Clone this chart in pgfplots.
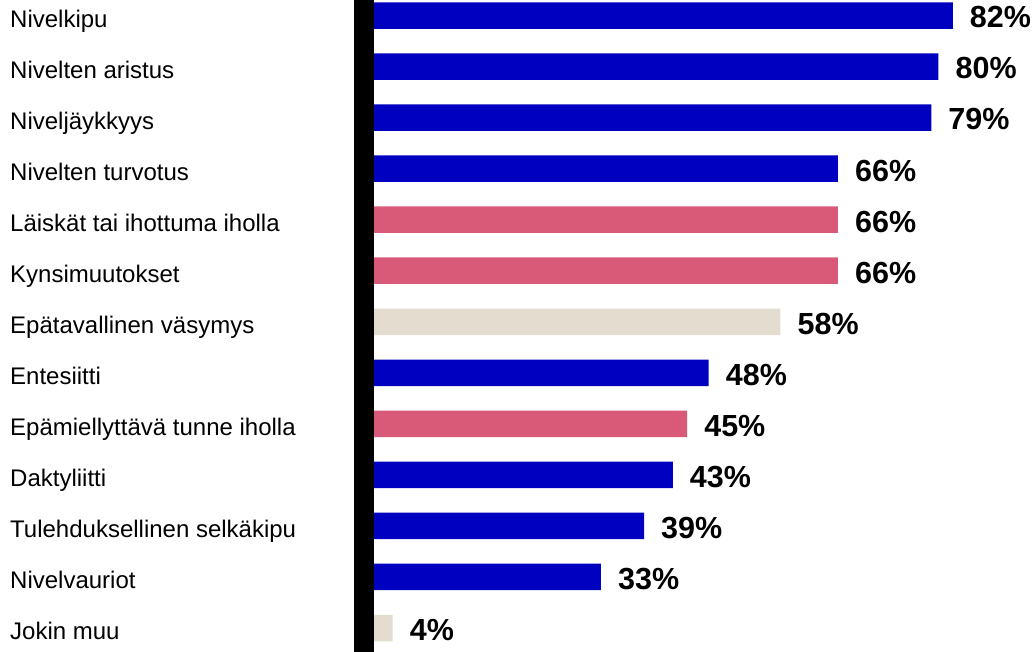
\documentclass[border=0pt]{standalone}
\usepackage{pgfplots}
\pgfplotsset{compat=1.18}
\usepackage{fontspec}
\setmainfont{Liberation Sans}
\definecolor{cblue}{HTML}{0000C0}
\definecolor{cpink}{HTML}{D85A78}
\definecolor{cbeige}{HTML}{E2DDCE}
\begin{document}
\begin{tikzpicture}
\useasboundingbox (0,0) rectangle (1035pt,652pt);
\begin{axis}[
  at={(364pt,0pt)}, anchor=south west,
  scale only axis, width=671pt, height=652pt,
  xbar, bar width=26.5pt, bar shift=0pt,
  xmin=0, xmax=93.45,
  ymin=-0.304, ymax=12.47,
  y dir=reverse,
  axis x line=none,
  axis y line*=left,
  y axis line style={line width=20pt, black},
  axis on top,
  ytick={0,...,12},
  yticklabels={Nivelkipu,Nivelten aristus,Niveljäykkyys,Nivelten turvotus,Läiskät tai ihottuma iholla,Kynsimuutokset,Epätavallinen väsymys,Entesiitti,Epämiellyttävä tunne iholla,Daktyliitti,Tulehduksellinen selkäkipu,Nivelvauriot,Jokin muu},
  major tick length=0pt,
  yticklabel style={anchor=base west, inner sep=0pt, xshift=-354pt, yshift=-11.5pt, font=\fontsize{24}{28}\selectfont},
  point meta=x,
  nodes near coords={\pgfmathprintnumber[assume math mode=true]{\pgfplotspointmeta}\%},
  nodes near coords style={anchor=base west, inner sep=0pt, xshift=17pt, yshift=-12.4pt, font=\fontsize{30.5}{36}\selectfont\bfseries, black},
  clip=false,
]
\addplot[fill=cblue, draw=none] coordinates {(82,0) (80,1) (79,2) (66,3) (48,7) (43,9) (39,10) (33,11)};
\addplot[fill=cpink, draw=none] coordinates {(66,4) (66,5) (45,8)};
\addplot[fill=cbeige, draw=none] coordinates {(58,6) (4,12)};
\end{axis}
\end{tikzpicture}
\end{document}
